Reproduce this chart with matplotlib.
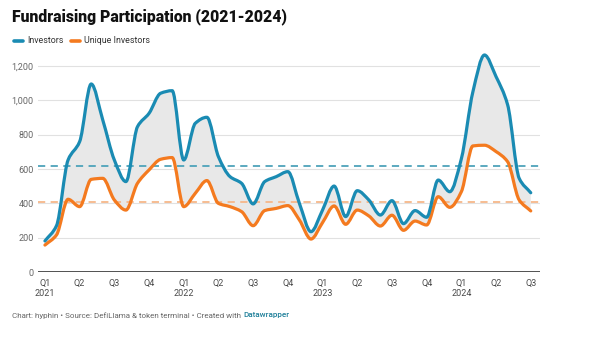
import numpy as np
import matplotlib
matplotlib.use("Agg")
import matplotlib.pyplot as plt
from matplotlib.path import Path
from matplotlib.patches import PathPatch
from matplotlib.lines import Line2D

# Monthly fundraising participation, Jan 2021 - Jul 2024
months = list(range(43))
investors = [181, 270, 653, 760, 1096, 886, 653, 527, 847, 925, 1042,
             1057, 653, 867, 902, 672, 556, 517, 397, 527, 556, 585,
             400, 235, 361, 501, 323, 474, 420, 332, 416, 282, 358,
             319, 536, 468, 660, 1051, 1265, 1139, 975, 546, 462]
unique_investors = [157, 216, 424, 381, 540, 546, 420, 361, 517, 595, 657,
                    667, 381, 459, 533, 400, 381, 352, 270, 358, 371, 387,
                    303, 192, 288, 385, 278, 361, 327, 268, 331, 243, 297,
                    274, 439, 377, 468, 735, 739, 702, 643, 420, 356]
avg_investors = 617
avg_unique = 410

quarter_labels = ["Q1\n2021", "Q2", "Q3", "Q4", "Q1\n2022", "Q2", "Q3", "Q4",
                  "Q1\n2023", "Q2", "Q3", "Q4", "Q1\n2024", "Q2", "Q3"]
y_ticks = [0, 200, 400, 600, 800, 1000, 1200]

BLUE = "#1a8bb3"
ORANGE = "#f47a1f"
BLUE_DASH = "#4ea3ba"
ORANGE_DASH = "#f6b789"
GRID = "#e1e1e1"
TEXT = "#4a4a4a"


def monotone_segments(x, y):
    """Bezier control points for a monotone cubic curve through (x, y)."""
    x = np.asarray(x, float)
    y = np.asarray(y, float)
    n = len(x)
    h = np.diff(x)
    d = np.diff(y) / h
    m = np.zeros(n)
    m[0], m[-1] = d[0], d[-1]
    for i in range(1, n - 1):
        if d[i - 1] * d[i] <= 0:
            m[i] = 0.0
        else:
            w1 = 2 * h[i] + h[i - 1]
            w2 = h[i] + 2 * h[i - 1]
            m[i] = (w1 + w2) / (w1 / d[i - 1] + w2 / d[i])
    segs = []
    for i in range(n - 1):
        c1 = (x[i] + h[i] / 3, y[i] + m[i] * h[i] / 3)
        c2 = (x[i + 1] - h[i] / 3, y[i + 1] - m[i + 1] * h[i] / 3)
        segs.append((c1, c2, (x[i + 1], y[i + 1])))
    return segs


def curve_vertices(x, y):
    verts = [(x[0], y[0])]
    codes = [Path.MOVETO]
    for c1, c2, p in monotone_segments(x, y):
        verts += [c1, c2, p]
        codes += [Path.CURVE4] * 3
    return verts, codes


fig = plt.figure(figsize=(6.0, 3.38), dpi=100)
fig.patch.set_facecolor("white")


def fx(px):
    return px / 600.0


def fy(py):
    return 1 - py / 338.0


ax = fig.add_axes([fx(38), fy(272), fx(540) - fx(38), fy(49) - fy(272)])
ax.set_xlim(-0.6, 42.8)
ax.set_ylim(0, 1300)

# Shaded band between the two series
v_top, c_top = curve_vertices(months, investors)
v_bot, c_bot = curve_vertices(months[::-1], unique_investors[::-1])
band_verts = v_top + [v_bot[0]] + v_bot[1:] + [v_top[0]]
band_codes = c_top + [Path.LINETO] + c_bot[1:] + [Path.CLOSEPOLY]
ax.add_patch(PathPatch(Path(band_verts, band_codes), facecolor="#e8e8e8",
                       edgecolor="none", zorder=1))

# Grid
for t in y_ticks[1:]:
    ax.axhline(t, color=GRID, lw=0.8, zorder=0)
ax.axhline(0, color="#333333", lw=1.2, zorder=4)

# Average reference lines
ax.axhline(avg_investors, color=BLUE_DASH, lw=1.3, ls=(0, (4, 3)), zorder=2)
ax.axhline(avg_unique, color=ORANGE_DASH, lw=1.3, ls=(0, (4, 3)), zorder=2)

# Series curves
for vals, col in [(unique_investors, ORANGE), (investors, BLUE)]:
    v, c = curve_vertices(months, vals)
    ax.add_patch(PathPatch(Path(v, c), facecolor="none", edgecolor=col,
                           lw=2.3, capstyle="round", joinstyle="round", zorder=3))

for s in ax.spines.values():
    s.set_visible(False)
ax.set_yticks(y_ticks)
ax.set_yticklabels([f"{t:,}" for t in y_ticks], fontsize=6.5, color="#666666",
                   family="Roboto")
ax.set_xticks(months[::3])
ax.set_xticklabels(quarter_labels, fontsize=6.5, color=TEXT, family="Roboto",
                   linespacing=1.15)
ax.tick_params(axis="both", length=0)
ax.tick_params(axis="y", pad=3)
ax.tick_params(axis="x", pad=5)

# Title
fig.text(fx(12), fy(17), "Fundraising Participation (2021-2024)", fontsize=11.3,
         fontweight="black", family="Roboto", color="#111111", va="center")

# Legend
legend_items = [("Investors", BLUE, 13), ("Unique Investors", ORANGE, 70)]
for label, col, x0 in legend_items:
    fig.add_artist(Line2D([fx(x0 + 1), fx(x0 + 10)], [fy(40.5), fy(40.5)],
                          transform=fig.transFigure, color=col, lw=2.6,
                          solid_capstyle="round"))
    fig.text(fx(x0 + 14), fy(40.5), label, fontsize=6.4, family="Roboto",
             color="#333333", va="center")

# Footer
foot = fig.text(fx(12), fy(315.5), "Chart: hyphin \u2022 Source: DefiLlama & token terminal \u2022 Created with ",
                fontsize=5.8, family="Roboto", color="#666666", va="center")
ax.annotate("Datawrapper", xy=(1, 0.5), xycoords=foot, va="center", ha="left",
            fontsize=5.8, family="Roboto", color="#1d7f99", fontweight="medium")

fig.savefig("out.png", dpi=100, facecolor="white")
